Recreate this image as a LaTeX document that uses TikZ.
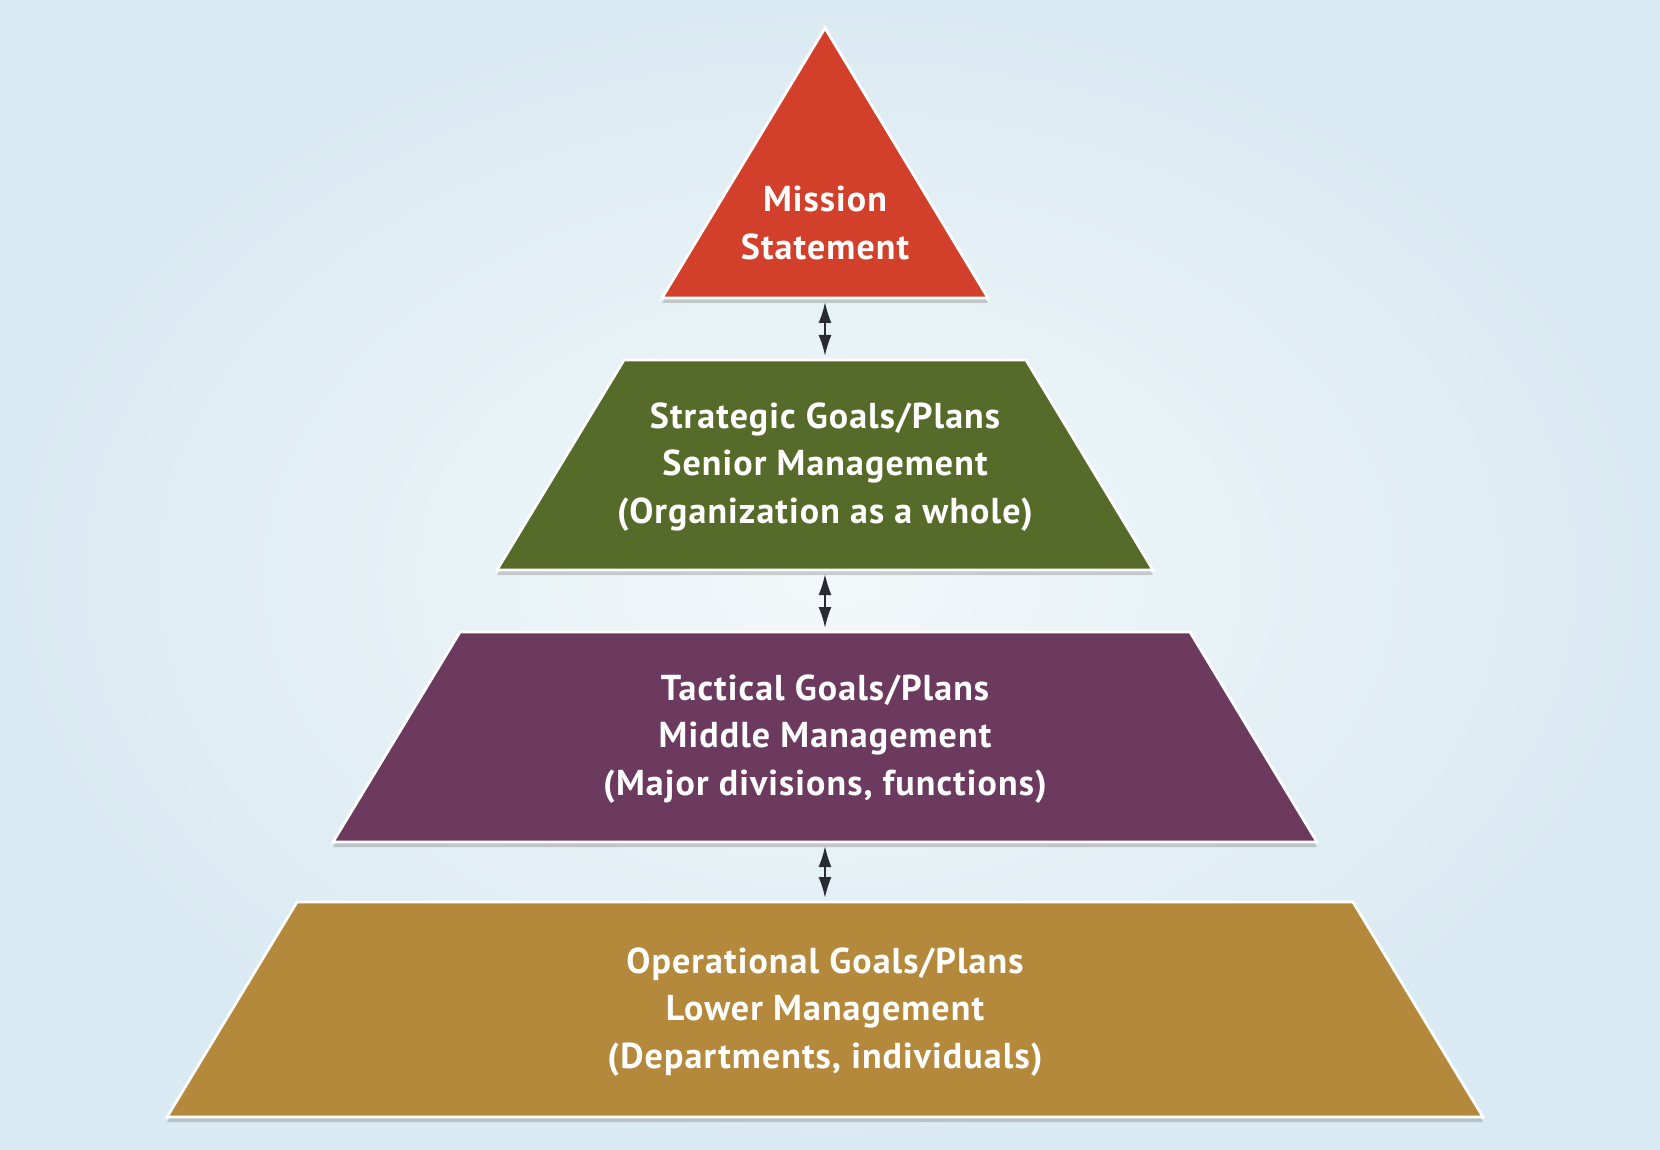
\documentclass[tikz,border=0pt]{standalone}
\usepackage{fontspec}
\setmainfont{PT Sans}[LetterSpace=3]
\usetikzlibrary{shadows,arrows.meta}
\definecolor{bgout}{RGB}{218,234,242}
\definecolor{bgin}{RGB}{243,248,250}
\definecolor{cred}{RGB}{210,64,43}
\definecolor{cgreen}{RGB}{86,107,41}
\definecolor{cpurple}{RGB}{108,58,94}
\definecolor{cgold}{RGB}{180,137,60}
\definecolor{carrow}{RGB}{40,44,48}
\begin{document}
\begin{tikzpicture}[x=0.5pt,y=-0.5pt,
  layer/.style={draw=white, line width=1.4pt, line join=miter,
    drop shadow={shadow xshift=0pt, shadow yshift=-2.5pt, opacity=0.25, fill=black!70}},
  lbl/.style={text=white, align=center, inner sep=0pt, font=\fontsize{18}{23.8}\selectfont\bfseries},
  link/.style={{Latex[length=10.5pt,width=6.5pt]}-{Latex[length=10.5pt,width=6.5pt]}, line width=1pt, draw=carrow}]
  % background
  \shade[inner color=bgin, outer color=bgout] (0,0) rectangle (1660,1150);
  \useasboundingbox (0,0) rectangle (1660,1150);
  % layers
  \path[layer, fill=cred] (825,28) -- (988,298) -- (662,298) -- cycle;
  \path[layer, fill=cgreen] (624,360) -- (1026,360) -- (1153,570) -- (497,570) -- cycle;
  \path[layer, fill=cpurple] (460,632) -- (1190,632) -- (1317,842) -- (333,842) -- cycle;
  \path[layer, fill=cgold] (297,902) -- (1353,902) -- (1483,1117) -- (167,1117) -- cycle;
  % labels
  \node[lbl] (mission) at (825,223) {Mission\\Statement};
  \node[lbl] (strategic) at (825,467) {Strategic Goals/Plans\\Senior Management\\(Organization as a whole)};
  \node[lbl] (tactical) at (825,739) {Tactical Goals/Plans\\Middle Management\\(Major divisions, functions)};
  \node[lbl] (operational) at (825,1012) {Operational Goals/Plans\\Lower Management\\(Departments, individuals)};
  % connector end points
  \coordinate (m-bot) at (825,302);
  \coordinate (s-top) at (825,356);
  \coordinate (s-bot) at (825,574);
  \coordinate (t-top) at (825,628);
  \coordinate (t-bot) at (825,846);
  \coordinate (o-top) at (825,898);
  \draw[link] (m-bot) -- (s-top);
  \draw[link] (s-bot) -- (t-top);
  \draw[link] (t-bot) -- (o-top);
\end{tikzpicture}
\end{document}
